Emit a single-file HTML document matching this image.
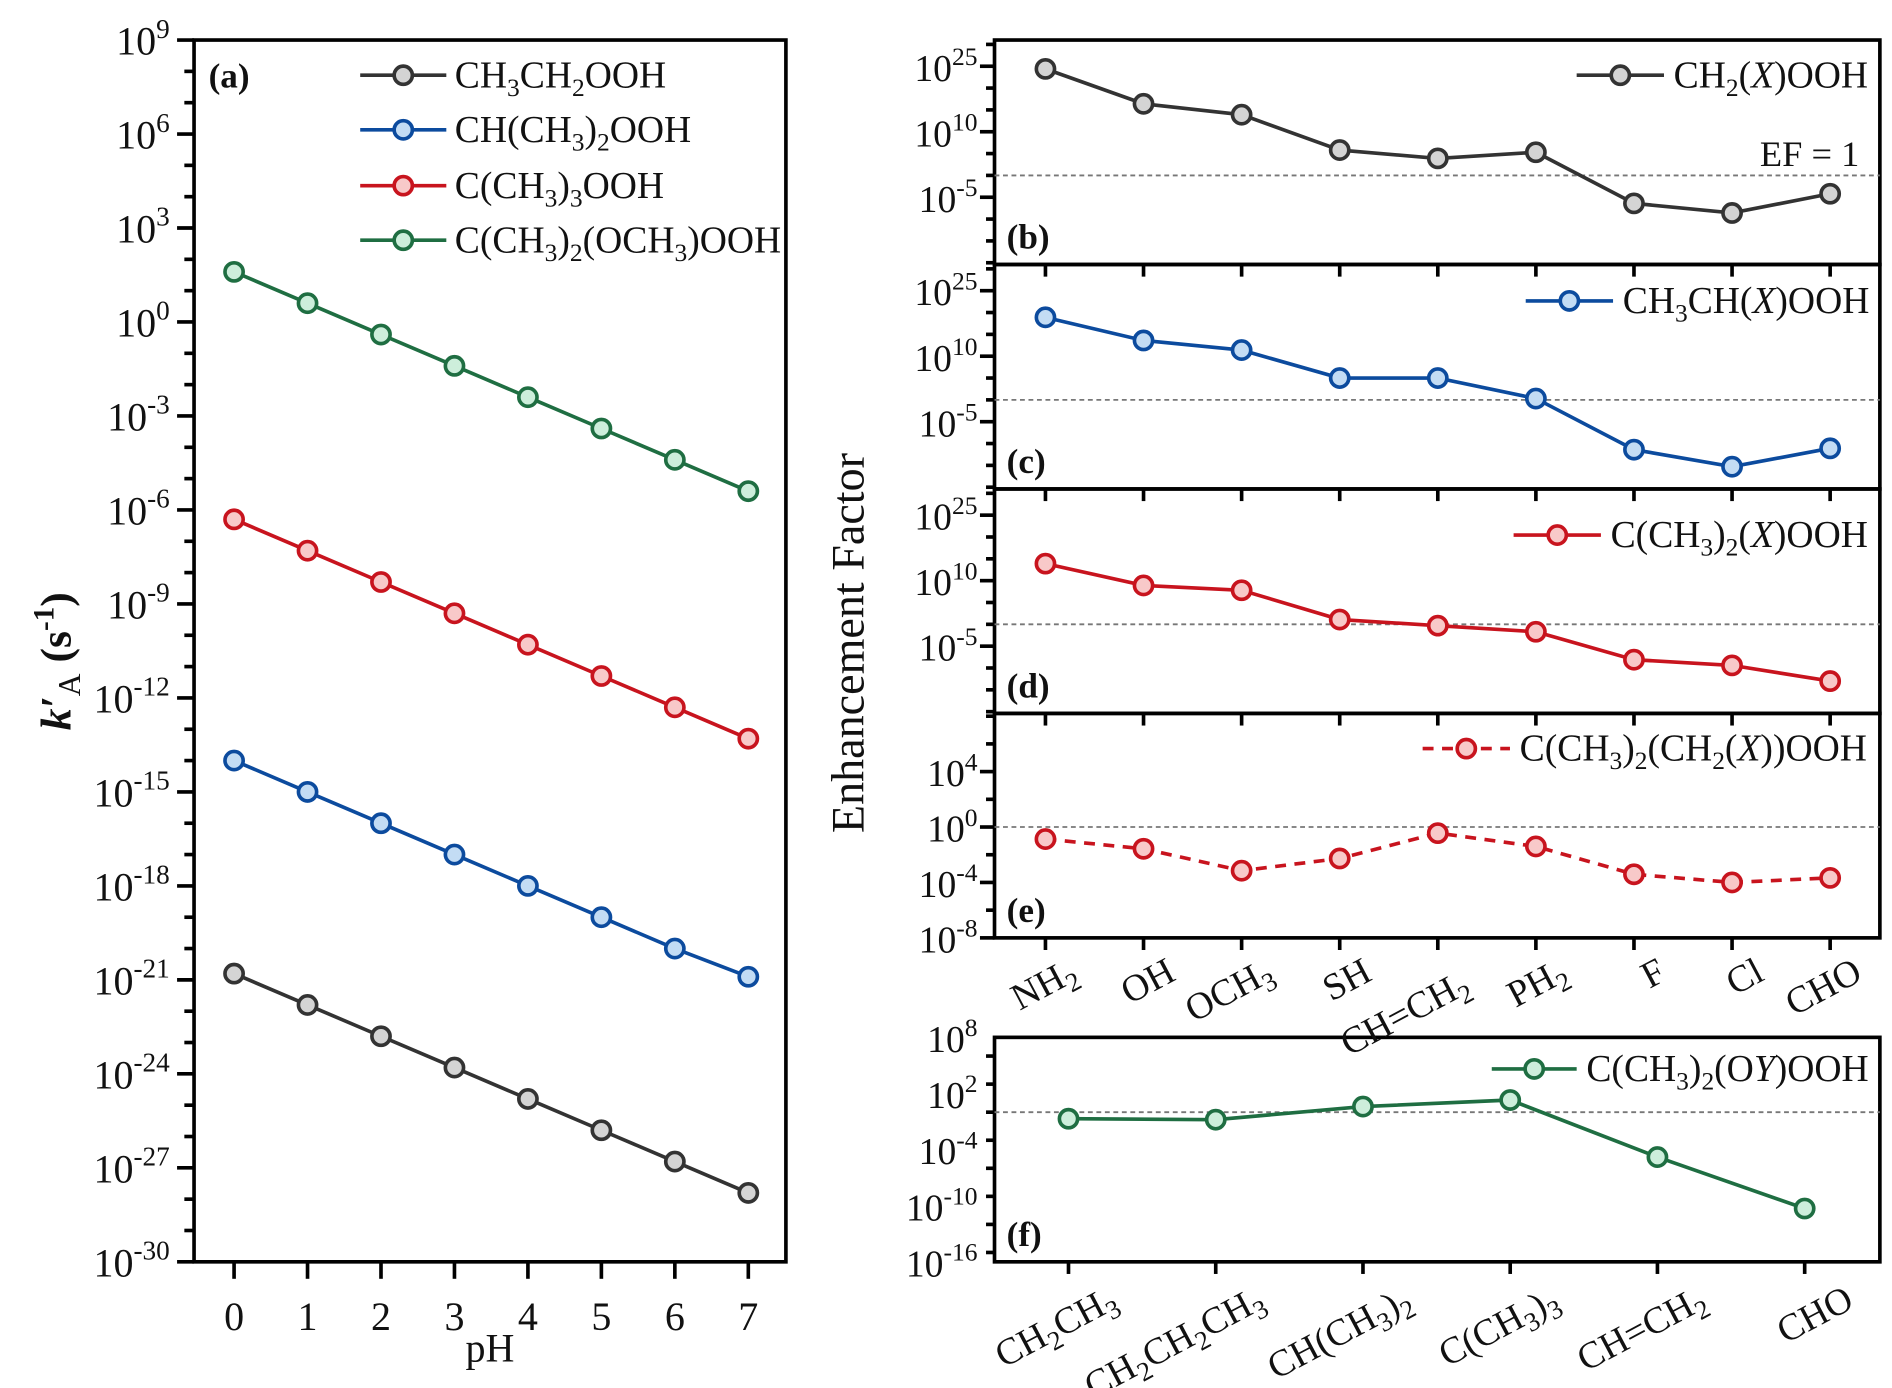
<!DOCTYPE html>
<html><head><meta charset="utf-8"><style>
html,body{margin:0;padding:0;background:#fff;}
svg{display:block;font-family:"Liberation Serif","Times New Roman",serif;}
</style></head><body>
<svg id="fig" width="1892" height="1388" viewBox="0 0 1560 1144" preserveAspectRatio="none" xmlns="http://www.w3.org/2000/svg">
<g id="root"></g>
</svg>
<script>
// ---- Panel (a) data: log10 k'A vs pH ----
const phValues = [0,1,2,3,4,5,6,7];
const logEthyl = [-20.8,-21.8,-22.8,-23.8,-24.8,-25.8,-26.8,-27.8];
const logIsopropyl = [-14.0,-15.0,-16.0,-17.0,-18.0,-19.0,-20.0,-20.9];
const logTertButyl = [-6.3,-7.3,-8.3,-9.3,-10.3,-11.3,-12.3,-13.3];
const logMethoxy = [1.6,0.6,-0.4,-1.4,-2.4,-3.4,-4.4,-5.4];
const aTickExps = [9,6,3,0,-3,-6,-9,-12,-15,-18,-21,-24,-27,-30];
// ---- Panels (b)-(e) categories ----
const xCats = ["NH2","OH","OCH3","SH","CH=CH2","PH2","F","Cl","CHO"];
const logB = [24.4,16.4,13.9,5.8,3.9,5.3,-6.4,-8.6,-4.2];
const logC = [18.9,13.6,11.4,5.0,5.0,0.3,-11.4,-15.3,-11.1];
const logD = [13.9,8.9,7.8,1.1,-0.3,-1.7,-8.1,-9.4,-13.0];
const logE = [-0.87,-1.57,-3.15,-2.27,-0.44,-1.4,-3.41,-4.0,-3.67];
const bcdTickExps = [25,10,-5];
const eTickExps = [4,0,-4,-8];
// ---- Panel (f) ----
const yCats = ["CH2CH3","CH2CH2CH3","CH(CH3)2","C(CH3)3","CH=CH2","CHO"];
const logF = [-0.7,-0.8,0.6,1.3,-4.8,-10.3];
const fTickExps = [8,2,-4,-10,-16];

const NS="http://www.w3.org/2000/svg";
const root=document.getElementById('root');
function el(tag,attrs,parent){const e=document.createElementNS(NS,tag);for(const k in attrs)e.setAttribute(k,attrs[k]);(parent||root).appendChild(e);return e;}
function supLabel(parent,x,y,exp,size){
  const t=el('text',{x:x,y:y,'font-size':size,fill:'#111','text-anchor':'end'},parent);
  const a=el('tspan',{},t);a.textContent='10';
  const b=el('tspan',{'font-size':size*0.68,dy:-size*0.42},t);b.textContent=String(exp);
  return t;
}
const COL={black:['#333','#d4d4d4'],blue:['#0c4b9e','#c3dcf4'],red:['#c8141e','#f8c9c9'],green:['#1f6e42','#cdeedb']};

// ================= Panel (a) =================
const A={l:160,r:648,t:33,b:1040,ymax:9,ymin:-30,x0:193,x7:617};
const ax=x=>A.x0+(x-0)*(A.x7-A.x0)/7;
const ay=v=>A.t+(A.ymax-v)*(A.b-A.t)/(A.ymax-A.ymin);
const pa=el('g',{});


el('rect',{x:A.l,y:A.t,width:A.r-A.l,height:A.b-A.t,fill:'none',stroke:'#000','stroke-width':3},pa);
for(let e=A.ymin;e<=A.ymax;e++){
  const major=aTickExps.includes(e);
  el('line',{x1:A.l-(major?14:8),x2:A.l,y1:ay(e),y2:ay(e),stroke:'#000','stroke-width':3},pa);
}
aTickExps.forEach(e=>{const t=supLabel(pa,A.l-20,ay(e)+12,e,33);});
phValues.forEach(p=>{
  el('line',{x1:ax(p),x2:ax(p),y1:A.b,y2:A.b+14,stroke:'#000','stroke-width':3},pa);
  const t=el('text',{x:ax(p),y:A.b+56,'font-size':33,'text-anchor':'middle',fill:'#111'},pa);t.textContent=p;
  
  
});
const ph=el('text',{x:(A.l+A.r)/2,y:1122,'font-size':33,'text-anchor':'middle',fill:'#111'},pa);ph.textContent='pH';

const yt=el('text',{x:0,y:0,'font-size':36,'font-weight':'bold',fill:'#111',transform:'translate(58,545) rotate(-90)','text-anchor':'middle'},pa);

{const k=el('tspan',{'font-style':'italic'},yt);k.textContent="k′";const s=el('tspan',{'font-size':26,dy:8,'font-weight':'normal'},yt);s.textContent='A';const r=el('tspan',{dy:-8},yt);r.textContent=' (s';const s2=el('tspan',{'font-size':24,dy:-14},yt);s2.textContent='-1';const r2=el('tspan',{dy:14},yt);r2.textContent=')';}
const la=el('text',{x:172,y:72,'font-size':29,'font-weight':'bold',fill:'#111'},pa);la.textContent='(a)';

function series(parent,xs,ys,col,dashed,name){
  const g=el('g',{},parent);
  
  
  el('polyline',{points:xs.map((x,i)=>x+','+ys[i]).join(' '),fill:'none',stroke:col[0],'stroke-width':3,'stroke-dasharray':dashed?'9,7':'none'},g);
  xs.forEach((x,i)=>{const c=el('circle',{cx:x,cy:ys[i],r:7.5,fill:col[1],stroke:col[0],'stroke-width':3},g);
    });
}
series(pa,phValues.map(ax),logMethoxy.map(ay),COL.green,false,'series-methoxy');
series(pa,phValues.map(ax),logTertButyl.map(ay),COL.red,false,'series-tert-butyl');
series(pa,phValues.map(ax),logIsopropyl.map(ay),COL.blue,false,'series-isopropyl');
series(pa,phValues.map(ax),logEthyl.map(ay),COL.black,false,'series-ethyl');
function legendEntry(parent,x1,x2,y,col,dashed,label,tx,size,name){
  const g=el('g',{},parent);
  
  
  el('line',{x1:x1,x2:x2,y1:y,y2:y,stroke:col[0],'stroke-width':3,'stroke-dasharray':dashed?'9,7':'none'},g);
  el('circle',{cx:(x1+x2)/2,cy:y,r:7.5,fill:col[1],stroke:col[0],'stroke-width':3},g);
  const t=el('text',{x:tx,y:y+10,'font-size':size,fill:'#111'},g);
  label.forEach(p=>{const s=el('tspan',p.a||{},t);s.textContent=p.t;});
}
function parts(arr){const out=[];arr.forEach(p=>{if(typeof p==='string')out.push({t:p});else if(p.s){out.push({t:p.s,a:{'font-size':21,dy:7}});out.push({t:'\u200b',a:{dy:-7}});}else if(p.i){out.push({t:p.i,a:{'font-style':'italic'}});}});return out;}
legendEntry(pa,297,368,62,COL.black,false,parts(['CH',{s:'3'},'CH',{s:'2'},'OOH']),375,31,'legend-ethyl');
legendEntry(pa,297,368,107,COL.blue,false,parts(['CH(CH',{s:'3'},')',{s:'2'},'OOH']),375,31,'legend-isopropyl');
legendEntry(pa,297,368,153,COL.red,false,parts(['C(CH',{s:'3'},')',{s:'3'},'OOH']),375,31,'legend-tert-butyl');
legendEntry(pa,297,368,198,COL.green,false,parts(['C(CH',{s:'3'},')',{s:'2'},'(OCH',{s:'3'},')OOH']),375,31,'legend-methoxy');

// ================= Right panels =================
const R={l:820,r:1550};
const cx=i=>862+i*(1509-862)/8;
const fx=i=>881+i*(1488-881)/5;
function panel(name,top,bot,ymax,ymin,tickExps,minorStep,vals,col,dashed,label,legend){
  const g=el('g',{});
  
  
  const y=v=>top+(ymax-v)*(bot-top)/(ymax-ymin);
  el('rect',{x:R.l,y:top,width:R.r-R.l,height:bot-top,fill:'none',stroke:'#000','stroke-width':3},g);
  for(let e=Math.ceil(ymin/minorStep)*minorStep;e<=ymax;e+=minorStep){
    const major=tickExps.includes(e);
    el('line',{x1:R.l-(major?12:7),x2:R.l,y1:y(e),y2:y(e),stroke:'#000','stroke-width':3},g);
  }
  tickExps.forEach(e=>{const t=supLabel(g,R.l-14,y(e)+12,e,31);});
  const ef=el('line',{x1:R.l,x2:R.r,y1:y(0),y2:y(0),stroke:'#777','stroke-width':1.5,'stroke-dasharray':'4,3'},g);
  
  const xs=vals.map((v,i)=>label==='(f)'?fx(i):cx(i));
  xs.forEach(x=>el('line',{x1:x,x2:x,y1:bot,y2:bot+10,stroke:'#000','stroke-width':3},g));
  series(g,xs,vals.map(y),col,dashed,name+'-series');
  const pl=el('text',{x:830,y:bot-13,'font-size':29,'font-weight':'bold',fill:'#111'},g);pl.textContent=label;
  
  legendEntry(g,legend[0],legend[1],legend[2],col,dashed,legend[3],legend[1]+8,31,name+'-legend');
  return {g,y};
}
const pb=panel('panel-b',33,218,31,-20.4,bcdTickExps,5,logB,COL.black,false,'(b)',[1300,1372,62,parts(['CH',{s:'2'},'(',{i:'X'},')OOH'])]);
const eft=el('text',{x:1533,y:137,'font-size':30,'text-anchor':'end',fill:'#111'},pb.g);eft.textContent='EF = 1';

panel('panel-c',218,403,31,-20.4,bcdTickExps,5,logC,COL.blue,false,'(c)',[1258,1330,248,parts(['CH',{s:'3'},'CH(',{i:'X'},')OOH'])]);
panel('panel-d',403,588,31,-20.4,bcdTickExps,5,logD,COL.red,false,'(d)',[1248,1320,441,parts(['C(CH',{s:'3'},')',{s:'2'},'(',{i:'X'},')OOH'])]);
panel('panel-e',588,773,8.2,-8,eTickExps,2,logE,COL.red,true,'(e)',[1173,1245,617,parts(['C(CH',{s:'3'},')',{s:'2'},'(CH',{s:'2'},'(',{i:'X'},'))OOH'])]);
panel('panel-f',855,1040,8,-16,fTickExps,3,logF,COL.green,false,'(f)',[1230,1300,881,parts(['C(CH',{s:'3'},')',{s:'2'},'(O',{i:'Y'},')OOH'])]);

function catLabel(x,y,str,name){
  const t=el('text',{x:0,y:0,'font-size':31,fill:'#111','text-anchor':'end',transform:`translate(${x},${y}) rotate(-28)`});
  
  
  const re=/(\d+)|([^\d]+)/g;let m;
  while((m=re.exec(str))){
    if(m[1]){const s=el('tspan',{'font-size':22,dy:7},t);s.textContent=m[1];const r=el('tspan',{dy:-7},t);r.textContent='\u200b';}
    else{const s=el('tspan',{},t);s.textContent=m[2];}
  }
}
xCats.forEach((c,i)=>catLabel(cx(i)+28,807+(c==='CH=CH2'?10:0),c,'x-category-label'));
yCats.forEach((c,i)=>catLabel(fx(i)+42,1077,c,'f-category-label'));
const et=el('text',{x:0,y:0,'font-size':38,fill:'#111','text-anchor':'middle',transform:'translate(712,530) rotate(-90)'});
et.textContent='Enhancement Factor';


</script>
</body></html>
